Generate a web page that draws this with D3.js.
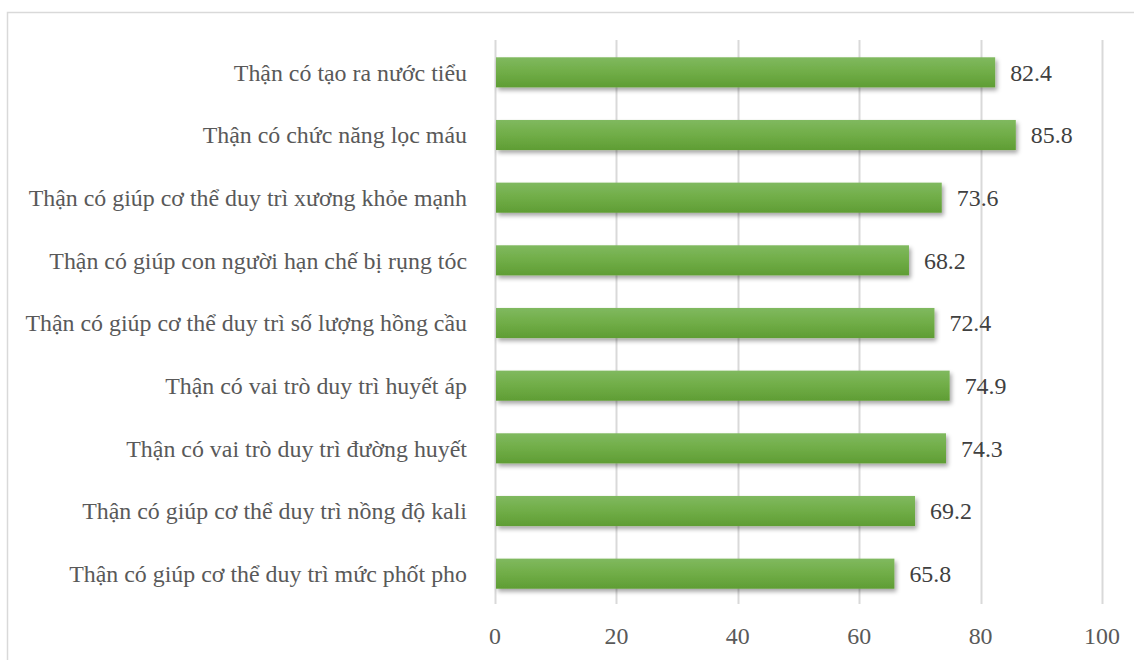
<!DOCTYPE html>
<html><head><meta charset="utf-8">
<script src="https://cdn.jsdelivr.net/npm/d3@7"></script>
<style>body{margin:0;background:#fff}svg{display:block}</style>
</head><body>
<script>
const categories = [
  "Thận có tạo ra nước tiểu",
  "Thận có chức năng lọc máu",
  "Thận có giúp cơ thể duy trì xương khỏe mạnh",
  "Thận có giúp con người hạn chế bị rụng tóc",
  "Thận có giúp cơ thể duy trì số lượng hồng cầu",
  "Thận có vai trò duy trì huyết áp",
  "Thận có vai trò duy trì đường huyết",
  "Thận có giúp cơ thể duy trì nồng độ kali",
  "Thận có giúp cơ thể duy trì mức phốt pho"
];
const values = [82.4, 85.8, 73.6, 68.2, 72.4, 74.9, 74.3, 69.2, 65.8];
const ticks = [0, 20, 40, 60, 80, 100];

const W = 1134, H = 660;
const svg = d3.select("body").append("svg").attr("width", W).attr("height", H);
const defs = svg.append("defs");
const g = defs.append("linearGradient").attr("id","bg").attr("x1",0).attr("y1",0).attr("x2",0).attr("y2",1);
g.append("stop").attr("offset","0%").attr("stop-color","#80b95f");
g.append("stop").attr("offset","50%").attr("stop-color","#70ad47");
g.append("stop").attr("offset","100%").attr("stop-color","#5f9d34");
const f = defs.append("filter").attr("id","sh").attr("x","-5%").attr("y","-20%").attr("width","115%").attr("height","160%");
f.append("feDropShadow").attr("dx",2).attr("dy",3).attr("stdDeviation",2).attr("flood-color","#000").attr("flood-opacity",0.35);

svg.append("rect").attr("x",7.5).attr("y",12.5).attr("width",W).attr("height",H)
  .attr("fill","#fff").attr("stroke","#d9d9d9").attr("stroke-width",1.5);

const x = d3.scaleLinear().domain([0,100]).range([495,1102]);
const y = d3.scaleBand().domain(categories).range([41,605]).paddingInner(0.52).paddingOuter(0.26);

svg.append("g").selectAll("line").data(ticks).join("line")
  .attr("x1",d=>Math.round(x(d))+0.5).attr("x2",d=>Math.round(x(d))+0.5)
  .attr("y1",40).attr("y2",604).attr("stroke","#d9d9d9").attr("stroke-width",2);

svg.append("g").selectAll("rect").data(values).join("rect")
  .attr("x",x(0)+1).attr("y",(d,i)=>y(categories[i]))
  .attr("width",d=>x(d)-x(0)-1).attr("height",y.bandwidth())
  .attr("fill","url(#bg)").attr("filter","url(#sh)");

const font = "'Liberation Serif','Times New Roman',serif";
const fs = 23.9;
svg.append("g").selectAll("text").data(values).join("text")
  .attr("x",d=>x(d)+15).attr("y",(d,i)=>y(categories[i])+y.bandwidth()/2)
  .attr("dy","0.35em").attr("font-family",font).attr("font-size",fs).attr("fill","#404040")
  .text(d=>d.toFixed(1));

svg.append("g").selectAll("text").data(categories).join("text")
  .attr("x",467).attr("y",d=>y(d)+y.bandwidth()/2)
  .attr("dy","0.35em").attr("text-anchor","end").attr("font-family",font).attr("font-size",fs).attr("fill","#595959")
  .text(d=>d);

svg.append("g").selectAll("text").data(ticks).join("text")
  .attr("x",d=>x(d)).attr("y",636).attr("dy","0.35em").attr("text-anchor","middle")
  .attr("font-family",font).attr("font-size",fs).attr("fill","#595959").text(d=>d);
</script>
</body></html>
